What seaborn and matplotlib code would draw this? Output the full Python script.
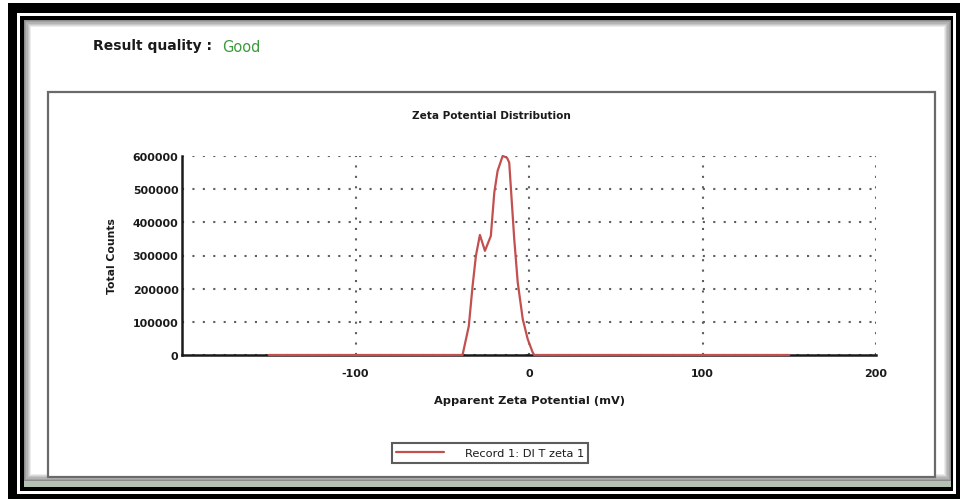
import numpy as np
import pandas as pd
import matplotlib
matplotlib.use("Agg")
import matplotlib.pyplot as plt
from matplotlib.patches import Rectangle
from matplotlib.ticker import FixedLocator, MultipleLocator, FuncFormatter
import seaborn as sns

# ---- data -------------------------------------------------------------
zeta_mv = [-150, -38.3, -34.7, -32.5, -30.6, -28.3, -25.4, -22.0, -20.0,
           -18.1, -15.2, -12.7, -11.4, -8.5, -6.5, -3.6, -0.75, 2.1, 3.0, 150]
total_counts = [0, 0, 87000, 209000, 299000, 362000, 314000, 359000, 490000,
                555000, 600000, 595000, 580000, 349000, 219000, 108000,
                48000, 8000, 0, 0]
series_name = "Record 1: DI T zeta 1"
x_tick_values = [-100, 0, 100, 200]
x_minor_values = [-200, -150, -50, 50, 150]

W, H = 962, 502

sns.set_theme(style="white")
plt.rcParams["font.family"] = ["DejaVu Sans"]
plt.rcParams["axes.unicode_minus"] = False

fig = plt.figure(figsize=(W / 100, H / 100), dpi=100)
fig.patch.set_facecolor("white")


def fx(px):
    return px / W


def fy(py):
    return 1 - py / H


def box(x0, y0, x1, y1, **kw):
    r = Rectangle((fx(x0), fy(y1)), (x1 - x0) / W, (y1 - y0) / H,
                  transform=fig.transFigure, **kw)
    fig.add_artist(r)
    return r


# page frame: black border, white hairline, black line, shaded panel
box(8, 4, 960, 500, facecolor="black", edgecolor="none", zorder=-10)
box(17, 14, 956, 495, facecolor="white", edgecolor="none", zorder=-9)
box(20, 17, 953, 492, facecolor="black", edgecolor="none", zorder=-8)
box(24, 21, 951, 488, facecolor="#b4c2b4", edgecolor="none", zorder=-7.5)
shades = np.linspace(0.55, 1.0, 7)
for i, s in enumerate(shades):
    d = i * 1.2
    box(24 + d, 21 + d, 951 - d, 482 - d,
        facecolor=(s, s, s), edgecolor="none", zorder=-7 + i * 0.01)

# chart frame
box(48, 93, 935, 478, facecolor="white", edgecolor="#6a6a6a",
    linewidth=1.6, zorder=-6)

# result quality line
fig.text(fx(93), fy(46), "Result quality :", fontsize=10, fontweight="bold",
         color="#1a1a1a", ha="left", va="center")
fig.text(fx(222), fy(47), "Good", fontsize=10.5, color="#3c9a3c",
         ha="left", va="center")

# chart title
fig.text(fx(491), fy(116), "Zeta Potential Distribution", fontsize=7.6,
         fontweight="bold", color="#1a1a1a", ha="center", va="center")

ax = fig.add_axes([fx(182), fy(356), (876 - 182) / W, (356 - 157) / H])
ax.set_facecolor("white")

df = pd.DataFrame({"zeta": zeta_mv, "counts": total_counts})
sns.lineplot(data=df, x="zeta", y="counts", ax=ax, color="#c2504f",
             linewidth=1.6, label=series_name, sort=False, zorder=3)
for ln in ax.lines:
    ln.set_clip_on(False)

ax.set_xlim(-200, 200)
ax.set_ylim(0, 600000)

ax.xaxis.set_major_locator(FixedLocator(x_tick_values))
ax.xaxis.set_minor_locator(FixedLocator(x_minor_values))
ax.yaxis.set_major_locator(MultipleLocator(100000))
ax.yaxis.set_minor_locator(MultipleLocator(50000))
ax.yaxis.set_major_formatter(FuncFormatter(lambda v, p: f"{int(v)}"))

ax.tick_params(axis="both", which="both", direction="inout", length=3,
               width=2, color="#1a1a1a", labelsize=7.9, labelcolor="#1a1a1a")
ax.tick_params(axis="x", which="major", pad=8)
ax.tick_params(axis="y", which="major", pad=1)
ax.tick_params(axis="both", which="minor", length=3, width=2)
for lbl in ax.get_xticklabels() + ax.get_yticklabels():
    lbl.set_fontweight("bold")

for side in ("top", "right"):
    ax.spines[side].set_visible(False)
for side in ("left", "bottom"):
    ax.spines[side].set_color("#1a1a1a")
    ax.spines[side].set_linewidth(1.8)
    ax.spines[side].set_zorder(2)

ax.grid(True, which="major", axis="both", color="#5e5e5e", linewidth=1.5,
        linestyle=(0, (1, 4)))
ax.set_axisbelow(True)

ax.set_xlabel("Apparent Zeta Potential (mV)", fontsize=8.2, color="#1a1a1a",
              fontweight="bold")
ax.set_ylabel("Total Counts", fontsize=7.8, color="#1a1a1a",
              fontweight="bold")
ax.xaxis.set_label_coords(0.5, -0.20)
ax.yaxis.set_label_coords(-0.094, 0.5)

leg = ax.legend(loc="center", bbox_to_anchor=(fx(490), fy(454)),
                bbox_transform=fig.transFigure, fontsize=8.2, frameon=True,
                fancybox=False, handlelength=4.2, handletextpad=1.8,
                borderpad=0.4, borderaxespad=0)
leg.get_frame().set_edgecolor("#333333")
leg.get_frame().set_linewidth(1.5)
for t in leg.get_texts():
    t.set_color("#1a1a1a")

fig.savefig("out.png", dpi=100, facecolor=fig.get_facecolor())
